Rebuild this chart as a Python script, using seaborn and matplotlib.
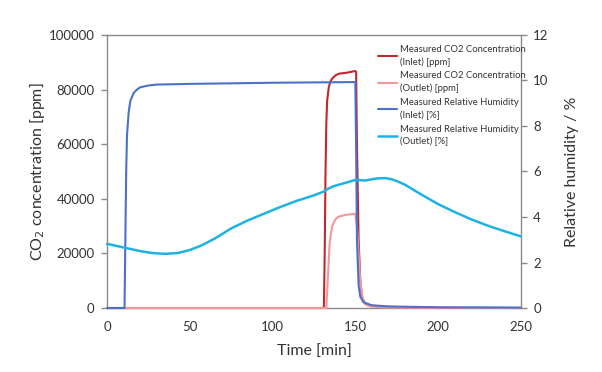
import numpy as np
import pandas as pd
import seaborn as sns
import matplotlib.pyplot as plt

# time [min] and values
t_co2_in = [0, 131, 131.5, 132, 132.5, 133, 134, 135, 136, 138, 140, 145, 150, 150.5,
            151, 152, 153, 154, 156, 160, 170, 200, 250]
co2_in = [0, 0, 20000, 50000, 68000, 76000, 81000, 83000, 84000, 85200, 85800, 86200,
          86800, 86500, 60000, 25000, 10000, 4000, 1500, 800, 400, 100, 0]

t_co2_out = [0, 132.5, 133.5, 134.5, 136, 138, 140, 145, 150, 151, 152, 153, 154, 155,
             157, 160, 170, 200, 250]
co2_out = [0, 0, 12000, 24000, 30000, 32500, 33500, 34200, 34500, 30000, 20000, 10000,
           5000, 2500, 1000, 500, 200, 0, 0]

t_rh_in = [0, 10.5, 11, 11.5, 12, 13, 14, 16, 18, 20, 25, 30, 50, 100, 150, 150.5, 151,
           152, 153, 155, 160, 170, 200, 250]
rh_in = [0, 0, 3.0, 6.0, 7.6, 8.6, 9.1, 9.45, 9.6, 9.7, 9.78, 9.82, 9.85, 9.9, 9.93, 7.0,
         3.0, 1.0, 0.5, 0.25, 0.12, 0.07, 0.03, 0.02]

t_rh_out = [0, 10, 20, 27, 35, 43, 50, 57, 65, 75, 85, 95, 105, 115, 125, 131, 133, 136,
            140, 145, 150, 153, 156, 160, 164, 168, 172, 176, 180, 185, 192, 200, 210,
            220, 230, 240, 250]
rh_out = [2.82, 2.66, 2.5, 2.42, 2.38, 2.42, 2.55, 2.75, 3.05, 3.5, 3.85, 4.15, 4.45,
          4.72, 4.95, 5.12, 5.22, 5.33, 5.42, 5.52, 5.63, 5.62, 5.6, 5.66, 5.7, 5.71, 5.66,
          5.55, 5.42, 5.2, 4.9, 4.57, 4.22, 3.9, 3.62, 3.38, 3.15]

labels = ["Measured CO2 Concentration\n(Inlet) [ppm]",
          "Measured CO2 Concentration\n(Outlet) [ppm]",
          "Measured Relative Humidity\n(Inlet) [%]",
          "Measured Relative Humidity\n(Outlet) [%]"]
colors = ["#C0282D", "#F4979A", "#4A72C8", "#1EB2E4"]

sns.set_style("white")
plt.rcParams['font.family'] = ['Lato', 'DejaVu Sans']
txt = "#333333"
grey = "#8a8a8a"

fig, ax1 = plt.subplots(figsize=(6.02, 3.72), dpi=100)
fig.subplots_adjust(left=0.178, right=0.865, top=0.906, bottom=0.172)
ax2 = ax1.twinx()

sns.lineplot(x=t_co2_in, y=co2_in, ax=ax1, color=colors[0], lw=1.5,
             estimator=None, sort=False, label=labels[0], legend=False)
sns.lineplot(x=t_co2_out, y=co2_out, ax=ax1, color=colors[1], lw=1.5,
             estimator=None, sort=False, label=labels[1], legend=False)
sns.lineplot(x=t_rh_in, y=rh_in, ax=ax2, color=colors[2], lw=1.5,
             estimator=None, sort=False, label=labels[2], legend=False)
sns.lineplot(x=t_rh_out, y=rh_out, ax=ax2, color=colors[3], lw=1.8,
             estimator=None, sort=False, label=labels[3], legend=False)
for ax in (ax1, ax2):
    for ln in ax.lines:
        ln.set_clip_on(False)
        ln.set_zorder(3)

ax1.set_xlim(0, 250)
ax1.set_ylim(0, 100000)
ax2.set_ylim(0, 12)
ax1.set_xticks([0, 50, 100, 150, 200, 250])
ax1.set_yticks(np.arange(0, 100001, 20000))
ax2.set_yticks(np.arange(0, 13, 2))

# only ax1 draws the frame, so ax2 does not hide ax1's baseline
for side in ("top", "bottom", "left"):
    ax2.spines[side].set_visible(False)
ax1.spines["right"].set_visible(False)
for ax in (ax1, ax2):
    for s in ax.spines.values():
        s.set_color(grey)
        s.set_linewidth(1.0)
        s.set_zorder(1)
    ax.tick_params(colors=grey, labelcolor=txt, labelsize=9.5, length=4, width=1,
                   direction="out", pad=5)

ax1.set_xlabel("Time [min]", fontsize=11.5, color=txt, labelpad=9)
ax1.set_ylabel("CO$_2$ concentration [ppm]", fontsize=11.5, color=txt, labelpad=1)
ax2.set_ylabel("Relative humidity / %", fontsize=11.5, color=txt, labelpad=12)

h1, _ = ax1.get_legend_handles_labels()
h2, _ = ax2.get_legend_handles_labels()
leg = ax2.legend(h1 + h2, labels, loc="upper left", bbox_to_anchor=(0.635, 0.995),
                 frameon=False, fontsize=6.8, handlelength=2.0, handletextpad=0.3,
                 labelspacing=0.5, labelcolor=txt)
for t in leg.get_texts():
    t.set_linespacing(1.45)

fig.savefig("out.png", dpi=100)
